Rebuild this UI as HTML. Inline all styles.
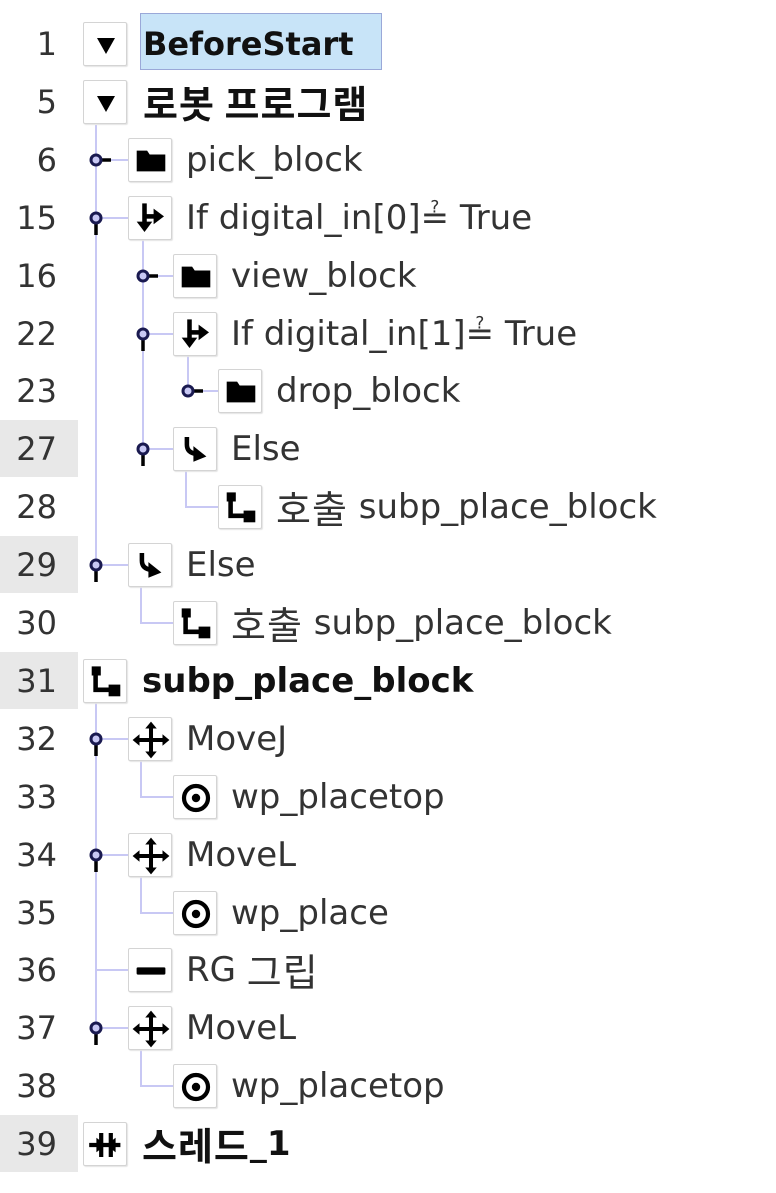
<!DOCTYPE html>
<html><head><meta charset="utf-8"><style>
body{margin:0;width:776px;height:1193px;background:#fff;position:relative;overflow:hidden;font-family:"DejaVu Sans","Noto Sans CJK KR",sans-serif;}
.n{position:absolute;left:0;width:57px;text-align:right;font-size:32px;color:#333;height:58px;line-height:58px;}
.g{position:absolute;left:0;width:78px;height:57px;background:#e8e8e8;}
.b{position:absolute;width:42px;height:42px;border:1px solid #d4d4d4;background:#fff;border-radius:2px;box-shadow:1px 1px 1px #e4e4e4;}
.b svg{position:absolute;left:0;top:0}
.t{position:absolute;font-size:34px;color:#333;height:58px;line-height:58px;white-space:nowrap;}
.k{font-family:"Noto Sans CJK KR",sans-serif;font-size:38px;letter-spacing:1px;vertical-align:top;}
.bold{font-weight:bold;color:#111}
.bold .k{font-weight:bold}
.l{position:absolute;background:#c8c8f4}
</style></head><body>
<svg width="0" height="0" style="position:absolute">
<defs>
<g id="fold" transform="translate(22 22) scale(1.3) translate(-22 -22)"><path d="M11 14h8l2 3h12v13H11z" fill="#000"/></g>
<g id="if" transform="translate(22 22) scale(1.3) translate(-22 -22)"><path d="M17 10v16" stroke="#000" stroke-width="3.5"/><path d="M11 24l6 8 6-8z" fill="#000"/><path d="M17 20h8" stroke="#000" stroke-width="3.5"/><path d="M24 14l8 6-8 6z" fill="#000"/></g>
<g id="else" transform="translate(22 22) scale(1.3) translate(-22 -22)"><path d="M15 12v6q0 6 7 7" stroke="#000" stroke-width="3.5" fill="none"/><path d="M20 19l10 8-10 4z" fill="#000"/></g>
<g id="call" transform="translate(22 22) scale(1.3) translate(-22 -22)"><rect x="11" y="10" width="7" height="7" fill="#000"/><path d="M14 16v12h12" stroke="#000" stroke-width="3.5" fill="none"/><rect x="24" y="24" width="9" height="9" fill="#000"/></g>
<g id="move" transform="translate(22 22) scale(1.15) translate(-22 -22)"><path d="M22 9v26M9 22h26" stroke="#000" stroke-width="3.5"/><path d="M22 6l-5 6h10zM22 38l-5-6h10zM6 22l6-5v10zM38 22l-6-5v10z" fill="#000"/></g>
<g id="wp" transform="translate(22 22) scale(1.2) translate(-22 -22)"><circle cx="22" cy="22" r="10" stroke="#000" stroke-width="3.5" fill="none"/><circle cx="22" cy="22" r="3.5" fill="#000"/></g>
<g id="rg" transform="translate(22 22) scale(1.2) translate(-22 -22)"><rect x="10" y="19" width="24" height="6" rx="1" fill="#000"/></g>
<g id="thr" transform="translate(22 22) scale(1.2) translate(-22 -22)"><path d="M8 22h26M18 12v20M26 12v20" stroke="#000" stroke-width="3.5"/><path d="M14 16l8 6-8 6zM30 16l-8 6 8 6z" fill="#000"/></g>
<g id="tri"><path d="M13 15h18l-9 16z" fill="#000"/></g>
</defs></svg>

<div class="g" style="top:420px"></div>
<div class="g" style="top:536px"></div>
<div class="g" style="top:652px"></div>
<div class="g" style="top:1115px"></div>

<div class="l" style="left:95px;top:125px;width:2px;height:440px"></div>
<div class="l" style="left:142px;top:218px;width:2px;height:231px"></div>
<div class="l" style="left:187px;top:334px;width:2px;height:57px"></div>
<div class="l" style="left:95px;top:703px;width:2px;height:325px"></div>
<div class="l" style="left:96px;top:159px;width:32px;height:2px"></div>
<div class="l" style="left:96px;top:217px;width:32px;height:2px"></div>
<div class="l" style="left:143px;top:275px;width:30px;height:2px"></div>
<div class="l" style="left:143px;top:333px;width:30px;height:2px"></div>
<div class="l" style="left:188px;top:390px;width:30px;height:2px"></div>
<div class="l" style="left:143px;top:448px;width:30px;height:2px"></div>
<div class="l" style="left:96px;top:564px;width:32px;height:2px"></div>
<div class="l" style="left:96px;top:738px;width:32px;height:2px"></div>
<div class="l" style="left:96px;top:854px;width:32px;height:2px"></div>
<div class="l" style="left:96px;top:969px;width:32px;height:2px"></div>
<div class="l" style="left:96px;top:1027px;width:32px;height:2px"></div>
<div class="l" style="left:185px;top:471px;width:2px;height:36px"></div><div class="l" style="left:185px;top:506px;width:33px;height:2px"></div>
<div class="l" style="left:140px;top:587px;width:2px;height:36px"></div><div class="l" style="left:140px;top:622px;width:33px;height:2px"></div>
<div class="l" style="left:140px;top:761px;width:2px;height:36px"></div><div class="l" style="left:140px;top:796px;width:33px;height:2px"></div>
<div class="l" style="left:140px;top:877px;width:2px;height:36px"></div><div class="l" style="left:140px;top:912px;width:33px;height:2px"></div>
<div class="l" style="left:140px;top:1050px;width:2px;height:36px"></div><div class="l" style="left:140px;top:1085px;width:33px;height:2px"></div>

<svg width="776" height="1193" style="position:absolute;left:0;top:0">
<g stroke="#1a1a50" stroke-width="3" fill="#c8c8f4">
<path d="M102 160h9" stroke="#000" stroke-width="3.5"/><circle cx="96" cy="160" r="5"/>
<path d="M96 224v11" stroke="#000" stroke-width="3.5"/><circle cx="96" cy="218" r="5"/>
<path d="M149 276h9" stroke="#000" stroke-width="3.5"/><circle cx="143" cy="276" r="5"/>
<path d="M143 340v11" stroke="#000" stroke-width="3.5"/><circle cx="143" cy="334" r="5"/>
<path d="M194 391h9" stroke="#000" stroke-width="3.5"/><circle cx="188" cy="391" r="5"/>
<path d="M143 455v11" stroke="#000" stroke-width="3.5"/><circle cx="143" cy="449" r="5"/>
<path d="M96 571v11" stroke="#000" stroke-width="3.5"/><circle cx="96" cy="565" r="5"/>
<path d="M96 745v11" stroke="#000" stroke-width="3.5"/><circle cx="96" cy="739" r="5"/>
<path d="M96 861v11" stroke="#000" stroke-width="3.5"/><circle cx="96" cy="855" r="5"/>
<path d="M96 1034v11" stroke="#000" stroke-width="3.5"/><circle cx="96" cy="1028" r="5"/>
</g></svg>

<div style="position:absolute;left:140px;top:13px;width:240px;height:55px;background:#c8e4f8;border:1px solid #9aa8d8"></div>

<div class="n" style="top:15px">1</div><div class="b" style="left:83px;top:22px"><svg width="44" height="44"><use href="#tri"/></svg></div><div class="t bold" style="left:143px;top:15px;font-size:32px">BeforeStart</div>
<div class="n" style="top:73px">5</div><div class="b" style="left:83px;top:80px"><svg width="44" height="44"><use href="#tri"/></svg></div><div class="t bold" style="left:143px;top:73px"><span class="k">로봇 프로그램</span></div>
<div class="n" style="top:131px">6</div><div class="b" style="left:128px;top:138px"><svg width="44" height="44"><use href="#fold"/></svg></div><div class="t" style="left:186px;top:131px">pick_block</div>
<div class="n" style="top:189px">15</div><div class="b" style="left:128px;top:196px"><svg width="44" height="44"><use href="#if"/></svg></div><div class="t" style="left:186px;top:189px">If digital_in[0]≟ True</div>
<div class="n" style="top:247px">16</div><div class="b" style="left:173px;top:254px"><svg width="44" height="44"><use href="#fold"/></svg></div><div class="t" style="left:231px;top:247px">view_block</div>
<div class="n" style="top:305px">22</div><div class="b" style="left:173px;top:312px"><svg width="44" height="44"><use href="#if"/></svg></div><div class="t" style="left:231px;top:305px">If digital_in[1]≟ True</div>
<div class="n" style="top:362px">23</div><div class="b" style="left:218px;top:369px"><svg width="44" height="44"><use href="#fold"/></svg></div><div class="t" style="left:276px;top:362px">drop_block</div>
<div class="n" style="top:420px">27</div><div class="b" style="left:173px;top:427px"><svg width="44" height="44"><use href="#else"/></svg></div><div class="t" style="left:231px;top:420px">Else</div>
<div class="n" style="top:478px">28</div><div class="b" style="left:218px;top:485px"><svg width="44" height="44"><use href="#call"/></svg></div><div class="t" style="left:276px;top:478px"><span class="k">호출</span> subp_place_block</div>
<div class="n" style="top:536px">29</div><div class="b" style="left:128px;top:543px"><svg width="44" height="44"><use href="#else"/></svg></div><div class="t" style="left:186px;top:536px">Else</div>
<div class="n" style="top:594px">30</div><div class="b" style="left:173px;top:601px"><svg width="44" height="44"><use href="#call"/></svg></div><div class="t" style="left:231px;top:594px"><span class="k">호출</span> subp_place_block</div>
<div class="n" style="top:652px">31</div><div class="b" style="left:83px;top:659px"><svg width="44" height="44"><use href="#call"/></svg></div><div class="t bold" style="left:142px;top:652px">subp_place_block</div>
<div class="n" style="top:710px">32</div><div class="b" style="left:128px;top:717px"><svg width="44" height="44"><use href="#move"/></svg></div><div class="t" style="left:186px;top:710px">MoveJ</div>
<div class="n" style="top:768px">33</div><div class="b" style="left:173px;top:775px"><svg width="44" height="44"><use href="#wp"/></svg></div><div class="t" style="left:231px;top:768px">wp_placetop</div>
<div class="n" style="top:826px">34</div><div class="b" style="left:128px;top:833px"><svg width="44" height="44"><use href="#move"/></svg></div><div class="t" style="left:186px;top:826px">MoveL</div>
<div class="n" style="top:884px">35</div><div class="b" style="left:173px;top:891px"><svg width="44" height="44"><use href="#wp"/></svg></div><div class="t" style="left:231px;top:884px">wp_place</div>
<div class="n" style="top:941px">36</div><div class="b" style="left:128px;top:948px"><svg width="44" height="44"><use href="#rg"/></svg></div><div class="t" style="left:186px;top:941px">RG <span class="k">그립</span></div>
<div class="n" style="top:999px">37</div><div class="b" style="left:128px;top:1006px"><svg width="44" height="44"><use href="#move"/></svg></div><div class="t" style="left:186px;top:999px">MoveL</div>
<div class="n" style="top:1057px">38</div><div class="b" style="left:173px;top:1064px"><svg width="44" height="44"><use href="#wp"/></svg></div><div class="t" style="left:231px;top:1057px">wp_placetop</div>
<div class="n" style="top:1115px">39</div><div class="b" style="left:83px;top:1122px"><svg width="44" height="44"><use href="#thr"/></svg></div><div class="t bold" style="left:142px;top:1115px"><span class="k">스레드</span>_1</div>
</body></html>
